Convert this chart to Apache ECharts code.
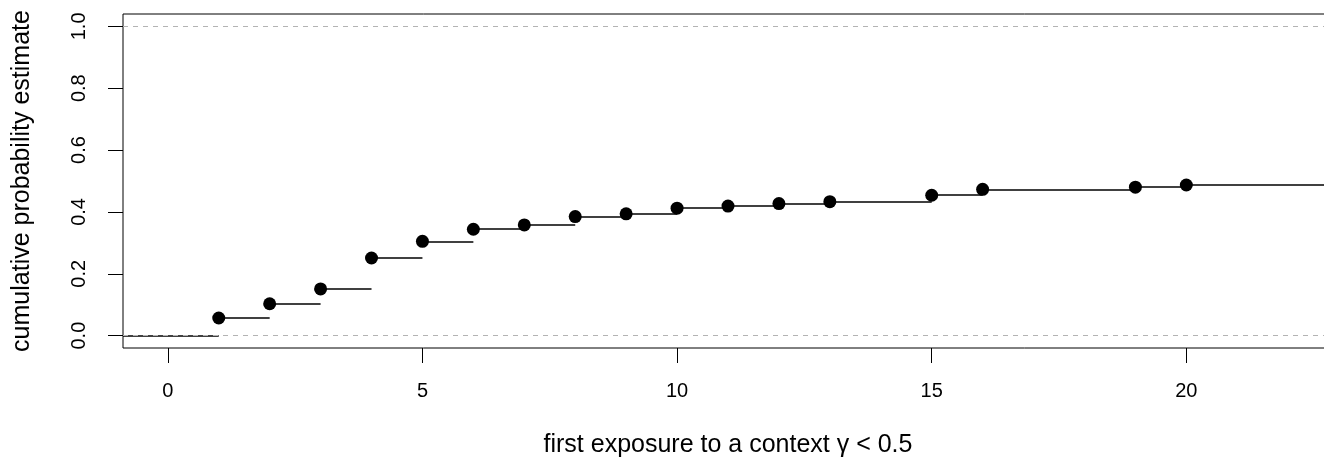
<!DOCTYPE html>
<html>
<head>
<meta charset="utf-8">
<script src="https://cdn.jsdelivr.net/npm/echarts@6/dist/echarts.min.js"></script>
<style>
  html, body { margin: 0; padding: 0; background: #fff; }
  #chart { width: 1324px; height: 462px; }
</style>
</head>
<body>
<div id="chart"></div>
<script>
// knots of the step function and the estimate at each knot
const knots = [1, 2, 3, 4, 5, 6, 7, 8, 9, 10, 11, 12, 13, 15, 16, 19, 20];
const estimate = [0.057, 0.103, 0.151, 0.251, 0.305, 0.344, 0.358, 0.385, 0.394,
  0.412, 0.419, 0.427, 0.433, 0.454, 0.473, 0.480, 0.487];
const xTicks = [0, 5, 10, 15, 20];
const yTicks = [0, 0.2, 0.4, 0.6, 0.8, 1.0];
const refLines = [0, 1];

// xlim c(0,22) and ylim c(0,1), each widened by 4% like R does
const xMin = -0.88, xMax = 22.88;
const yMin = -0.04, yMax = 1.04;

// horizontal pieces of the step function
let segs = [];
segs.push({ coords: [[xMin, 0], [knots[0], 0]] });
for (let i = 0; i < knots.length; i++) {
  let xEnd = i < knots.length - 1 ? knots[i + 1] : xMax;
  segs.push({ coords: [[knots[i], estimate[i]], [xEnd, estimate[i]]] });
}

const font = 'Liberation Sans, Arial, Helvetica, sans-serif';

let chart = echarts.init(document.getElementById('chart'));
chart.setOption({
  animation: false,
  backgroundColor: '#fff',
  grid: {
    left: 123, top: 14, width: 1210, height: 334,
    outerBoundsMode: 'none', containLabel: false,
    show: true, borderColor: '#000', borderWidth: 1, backgroundColor: 'transparent'
  },
  xAxis: {
    type: 'value', min: xMin, max: xMax,
    name: 'first exposure to a context \u03b3 < 0.5',
    nameLocation: 'middle', nameGap: 85,
    nameTextStyle: { color: '#000', fontSize: 25, fontFamily: font },
    splitLine: { show: false },
    axisLine: { show: false, onZero: false },
    axisTick: { show: true, customValues: xTicks, length: 15,
      lineStyle: { color: '#000', width: 1 } },
    axisLabel: { customValues: xTicks, color: '#000', fontSize: 20, fontFamily: font, margin: 33 }
  },
  yAxis: {
    type: 'value', min: yMin, max: yMax,
    name: 'cumulative probability estimate',
    nameLocation: 'middle', nameGap: 88, nameRotate: 90,
    nameTextStyle: { color: '#000', fontSize: 25, fontFamily: font },
    splitLine: { show: false },
    axisLine: { show: false, onZero: false },
    axisTick: { show: true, customValues: yTicks, length: 15,
      lineStyle: { color: '#000', width: 1 } },
    axisLabel: { customValues: yTicks, color: '#000', fontSize: 20, fontFamily: font,
      rotate: 90, margin: 34, formatter: v => v.toFixed(1) }
  },
  series: [
    {
      type: 'lines', coordinateSystem: 'cartesian2d', silent: true, z: 2,
      lineStyle: { color: '#000', width: 1.5, opacity: 1 },
      data: segs
    },
    {
      type: 'scatter', symbol: 'circle', symbolSize: 13, z: 3,
      itemStyle: { color: '#000', opacity: 1 },
      data: knots.map((k, i) => [k, estimate[i]])
    },
    {
      type: 'line', data: [], silent: true, z: 4,
      markLine: {
        symbol: 'none', silent: true, label: { show: false },
        lineStyle: { color: '#b3b3b3', type: [5, 5], width: 1 },
        data: refLines.map(v => ({ yAxis: v }))
      }
    }
  ]
});
</script>
</body>
</html>
